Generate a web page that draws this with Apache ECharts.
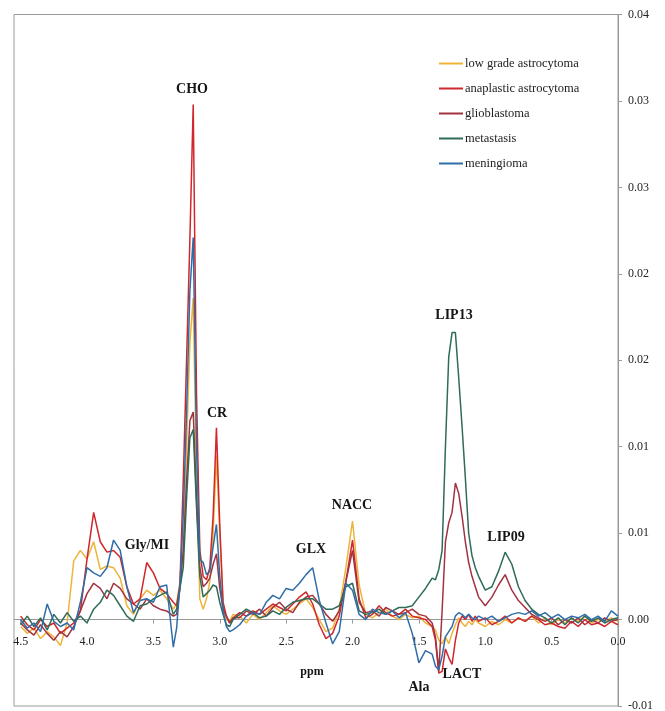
<!DOCTYPE html>
<html>
<head>
<meta charset="utf-8">
<script src="https://cdn.jsdelivr.net/npm/echarts@6/dist/echarts.min.js"></script>
<style>html,body{margin:0;padding:0;background:#fff}#c{width:665px;height:711px}</style>
</head>
<body>
<div id="c"></div>
<script>
const seriesNames = ['low grade astrocytoma','anaplastic astrocytoma','glioblastoma','metastasis','meningioma'];
const ppm = [
4.50,4.45,4.40,4.35,4.30,4.25,4.20,4.15,4.10,4.05,4.00,3.95,3.90,3.85,3.80,3.75,3.70,3.65,3.60,3.55,3.50,3.45,3.40,
3.35,3.325,3.30,3.275,3.25,3.225,3.20,3.175,3.15,3.125,3.10,3.075,3.05,3.025,3.00,2.975,2.95,2.925,2.90,
2.85,2.80,2.75,2.70,2.65,2.60,2.55,2.50,2.45,2.40,2.35,2.30,2.25,2.20,2.15,2.10,2.05,2.00,1.95,1.90,1.85,1.80,1.75,1.70,1.65,1.60,1.55,1.50,1.45,1.40,
1.375,1.35,1.325,1.30,1.275,1.25,1.225,1.20,1.175,1.15,1.125,1.10,1.075,1.05,
1.00,0.95,0.90,0.85,0.80,0.75,0.70,0.65,0.60,0.55,0.50,0.45,0.40,0.35,0.30,0.25,0.20,0.15,0.10,0.05,0.00];

const lowGrade = [
-0.0004,-0.0008,-0.0005,-0.0011,-0.0007,-0.0010,-0.0015,-0.0002,0.0034,0.0040,0.0035,0.0045,0.0029,0.0031,0.0030,0.0024,0.0008,0.0003,0.0012,0.0017,0.0014,0.0017,0.0012,
0.0006,0.0009,0.0022,0.0040,0.0100,0.0160,0.0186,0.0080,0.0012,0.0006,0.0012,0.0022,0.0050,0.0095,0.0050,0.0008,0.0000,-0.0001,0.0003,
0.0002,-0.0002,0.0003,0.0000,0.0004,0.0008,0.0005,0.0003,0.0006,0.0009,0.0012,0.0007,0.0000,-0.0007,-0.0005,0.0006,0.0030,0.0057,0.0020,0.0003,0.0001,0.0004,0.0006,0.0002,0.0000,0.0003,0.0001,0.0002,-0.0002,-0.0004,
-0.0006,-0.0012,-0.0014,-0.0010,-0.0014,-0.0008,-0.0003,0.0001,-0.0002,-0.0004,-0.0001,-0.0003,0.0000,-0.0002,
-0.0004,-0.0001,-0.0003,0.0000,-0.0002,0.0001,-0.0001,0.0002,-0.0002,0.0001,-0.0003,0.0000,-0.0002,0.0001,-0.0001,0.0002,-0.0002,0.0000,-0.0001,0.0001,-0.0001];

const anaplastic = [
0.0002,-0.0003,-0.0006,0.0000,-0.0004,-0.0002,-0.0008,-0.0005,-0.0002,0.0005,0.0035,0.0062,0.0045,0.0039,0.0040,0.0036,0.0019,0.0009,0.0012,0.0033,0.0027,0.0018,0.0015,
0.0010,0.0008,0.0020,0.0080,0.0150,0.0220,0.0298,0.0130,0.0040,0.0025,0.0023,0.0030,0.0060,0.0111,0.0055,0.0010,0.0002,-0.0002,0.0001,
0.0004,0.0002,0.0005,0.0003,0.0006,0.0009,0.0007,0.0005,0.0009,0.0013,0.0016,0.0009,-0.0003,-0.0011,-0.0008,0.0002,0.0022,0.0046,0.0012,0.0001,0.0003,0.0008,0.0004,0.0002,0.0003,0.0006,0.0002,0.0001,0.0000,-0.0004,
-0.0012,-0.0031,-0.0030,-0.0017,-0.0022,-0.0026,-0.0012,-0.0002,0.0002,0.0000,0.0003,-0.0001,0.0002,-0.0001,
0.0001,-0.0003,-0.0001,0.0002,-0.0002,0.0001,-0.0001,0.0002,0.0000,-0.0003,-0.0002,-0.0004,-0.0005,-0.0001,-0.0004,0.0000,-0.0003,-0.0002,-0.0004,-0.0001,-0.0003];

const glioblastoma = [
-0.0002,-0.0006,-0.0009,-0.0003,-0.0008,-0.0012,-0.0007,-0.0010,-0.0004,0.0005,0.0015,0.0021,0.0018,0.0012,0.0021,0.0018,0.0012,0.0009,0.0006,0.0012,0.0008,0.0006,0.0005,
0.0002,0.0003,0.0018,0.0040,0.0080,0.0115,0.0120,0.0070,0.0030,0.0019,0.0021,0.0024,0.0032,0.0038,0.0018,0.0006,0.0002,-0.0002,0.0001,
0.0001,0.0005,0.0003,0.0006,0.0002,0.0007,0.0010,0.0006,0.0004,0.0010,0.0013,0.0014,0.0009,0.0003,-0.0001,0.0005,0.0022,0.0040,0.0010,0.0004,0.0005,0.0002,0.0007,0.0005,0.0003,0.0004,0.0006,0.0003,0.0002,-0.0002,
-0.0010,-0.0030,0.0005,0.0045,0.0056,0.0062,0.0079,0.0073,0.0060,0.0045,0.0033,0.0025,0.0019,0.0013,
0.0008,0.0013,0.0020,0.0026,0.0017,0.0011,0.0007,0.0003,0.0001,-0.0001,0.0001,-0.0003,0.0000,-0.0002,0.0001,-0.0003,0.0000,-0.0002,0.0001,-0.0001,0.0000];

const metastasis = [
-0.0003,0.0002,-0.0004,0.0001,-0.0006,0.0003,-0.0002,0.0004,-0.0001,0.0002,-0.0002,0.0006,0.0010,0.0017,0.0014,0.0008,0.0002,-0.0001,0.0008,0.0009,0.0012,0.0014,0.0016,
0.0003,0.0006,0.0018,0.0030,0.0070,0.0105,0.0110,0.0065,0.0025,0.0013,0.0015,0.0017,0.0020,0.0019,0.0010,0.0003,-0.0003,-0.0004,0.0000,
0.0003,0.0006,0.0004,0.0001,0.0002,0.0005,0.0003,0.0007,0.0010,0.0011,0.0012,0.0012,0.0009,0.0006,0.0006,0.0008,0.0019,0.0021,0.0005,0.0003,0.0004,0.0006,0.0003,0.0005,0.0007,0.0007,0.0008,0.0013,0.0018,0.0024,
0.0023,0.0029,0.0040,0.0100,0.0152,0.0166,0.0166,0.0140,0.0112,0.0082,0.0050,0.0037,0.0030,0.0025,
0.0017,0.0019,0.0028,0.0039,0.0032,0.0019,0.0011,0.0006,0.0003,0.0001,-0.0002,0.0001,-0.0003,0.0001,-0.0002,0.0002,-0.0001,0.0001,-0.0002,0.0000,0.0001];

const meningioma = [
0.0000,-0.0005,-0.0002,-0.0007,0.0009,-0.0001,-0.0004,-0.0002,-0.0006,0.0010,0.0030,0.0027,0.0025,0.0030,0.0046,0.0040,0.0019,0.0004,0.0011,0.0012,0.0010,0.0019,0.0020,
-0.0016,-0.0005,0.0020,0.0060,0.0120,0.0190,0.0221,0.0100,0.0035,0.0033,0.0026,0.0028,0.0042,0.0055,0.0025,0.0005,-0.0004,-0.0007,-0.0006,
-0.0003,0.0002,0.0004,0.0003,0.0010,0.0014,0.0012,0.0018,0.0017,0.0021,0.0026,0.0030,0.0011,-0.0002,-0.0014,-0.0007,0.0021,0.0017,0.0003,0.0000,0.0006,0.0004,0.0003,0.0005,0.0001,0.0004,-0.0008,-0.0025,-0.0018,-0.0020,
-0.0027,-0.0029,-0.0021,-0.0010,-0.0007,-0.0004,0.0002,0.0004,0.0003,0.0001,0.0003,0.0001,0.0000,0.0002,
0.0000,0.0002,-0.0001,0.0001,0.0003,0.0004,0.0003,0.0005,0.0002,0.0004,0.0001,0.0003,0.0000,0.0002,0.0001,0.0003,0.0000,0.0002,-0.0001,0.0005,0.0002];

const yTickLabels = ['-0.01','0.00','0.01','0.01','0.02','0.02','0.03','0.03','0.04'];
const annotations = [
  {text:'CHO', x:192, y:89},
  {text:'CR', x:217, y:413},
  {text:'Gly/MI', x:147, y:545},
  {text:'GLX', x:311, y:549},
  {text:'NACC', x:352, y:505},
  {text:'LIP13', x:454, y:315},
  {text:'LIP09', x:506, y:537},
  {text:'Ala', x:419, y:687},
  {text:'LACT', x:462, y:674}
];
const colors = ['#EDB43A','#D0262C','#A33240','#2E6B58','#2F6DA8'];
const allSeries = [lowGrade, anaplastic, glioblastoma, metastasis, meningioma];

const chart = echarts.init(document.getElementById('c'), null, {renderer:'canvas'});
const serif = '"Liberation Serif","Times New Roman",serif';
chart.setOption({
  animation:false,
  backgroundColor:'#fff',
  color:colors,
  grid:{left:14, right:47, top:14.5, bottom:5, show:true, borderColor:'#9a9a9a', borderWidth:1, outerBoundsMode:'none'},
  legend:{
    orient:'vertical', left:439, top:57, padding:0, itemWidth:24, itemHeight:2, icon:'rect', itemGap:12,
    data:seriesNames,
    textStyle:{fontFamily:serif, fontSize:12.5, color:'#222', padding:[0,0,0,-3]}
  },
  xAxis:{
    type:'value', min:0, max:4.55, interval:0.5, inverse:true,
    axisLine:{onZero:true, lineStyle:{color:'#9a9a9a', width:1}},
    axisTick:{show:true, length:4, lineStyle:{color:'#9a9a9a'}},
    axisLabel:{showMaxLabel:false, margin:-70, fontFamily:serif, fontSize:12, color:'#222',
      formatter:v=>v.toFixed(1)},
    splitLine:{show:false}
  },
  yAxis:{
    type:'value', position:'right', min:-0.005, max:0.035, interval:0.005,
    axisLine:{show:true, lineStyle:{color:'#9a9a9a', width:1}},
    axisTick:{show:true, length:4, lineStyle:{color:'#9a9a9a'}},
    axisLabel:{margin:10, fontFamily:serif, fontSize:12, color:'#222',
      formatter:(v,i)=>yTickLabels[i]},
    splitLine:{show:false}
  },
  graphic: annotations.map(a=>({
    type:'text', x:a.x, y:a.y, z:100,
    style:{text:a.text, textAlign:'center', textVerticalAlign:'middle',
      font:'bold 14px "Liberation Serif"', fill:'#151515'}
  })).concat([{type:'text', x:312, y:672, z:100,
    style:{text:'ppm', textAlign:'center', textVerticalAlign:'middle', font:'bold 12px "Liberation Serif"', fill:'#151515'}}]),
  series: allSeries.map((arr,k)=>({
    name:seriesNames[k], type:'line', symbol:'none', smooth:false,
    lineStyle:{width:1.5, color:colors[k]},
    data: ppm.map((p,i)=>[p, arr[i]])
  }))
});
</script>
</body>
</html>
